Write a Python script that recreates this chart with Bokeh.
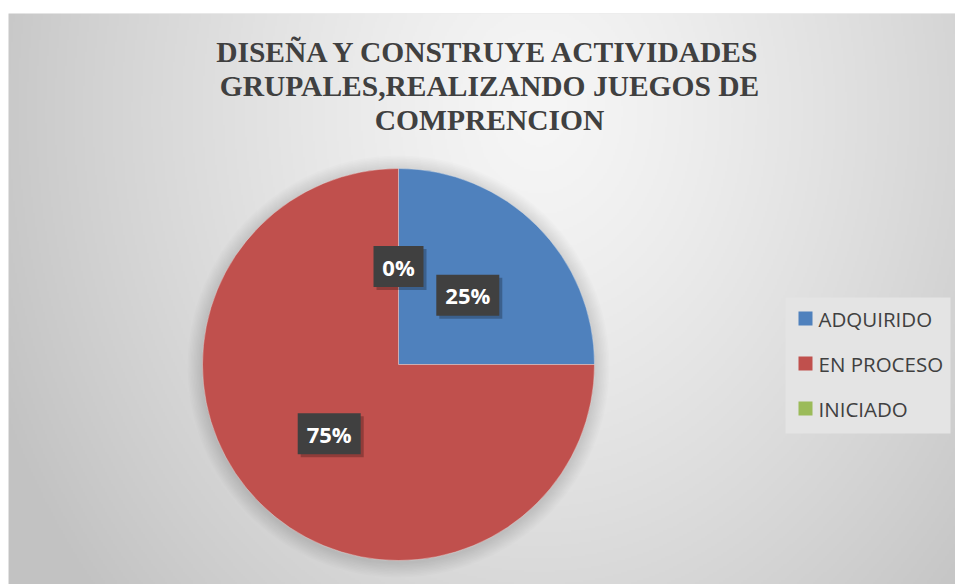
import numpy as np
from bokeh.plotting import figure
from bokeh.models import Range1d, ColumnDataSource
from bokeh.core.properties import value
from bokeh.embed import file_html
from bokeh.resources import INLINE

# ---- data ----
categories = ["ADQUIRIDO", "EN PROCESO", "INICIADO"]
values = [25, 75, 0]
pct_labels = ["25%", "75%", "0%"]
colors = ["#4f81bd", "#c0504d", "#9bbb59"]
title_lines = ["DISEÑA Y CONSTRUYE ACTIVIDADES",
               "GRUPALES,REALIZANDO JUEGOS DE",
               "COMPRENCION"]

W, H = 955, 584
LEFT, TOP = 8, 13   # image coords of frame top-left
BOT = 584


def Y(yimg):
    return 584 - yimg


p = figure(width=W, height=H, output_backend="svg", toolbar_location=None,
           x_range=Range1d(LEFT, 955), y_range=Range1d(Y(BOT), Y(TOP)),
           min_border_top=TOP, min_border_left=LEFT, min_border_right=0,
           min_border_bottom=0, border_fill_color="white",
           background_fill_color="#dcdcdc", outline_line_color=None)
p.axis.visible = False
p.grid.visible = False

# ---- background radial gradient ----
gw, gh = 474, 286
xs = np.linspace(LEFT, 955, gw)
ys = np.linspace(TOP, BOT, gh)
XX, YY = np.meshgrid(xs, ys)
d = np.sqrt(((XX - 540) / 560) ** 2 + ((YY - 110) / 700) ** 2)
v = np.clip(246 - 48 * d ** 1.3, 194, 246).astype(np.uint8)
img = np.empty((gh, gw, 4), dtype=np.uint8)
img[..., 0] = v
img[..., 1] = v
img[..., 2] = v
img[..., 3] = 255
img = np.ascontiguousarray(img[::-1])
p.image_rgba(image=[img.view(np.uint32).reshape(gh, gw)], x=LEFT, y=Y(BOT),
             dw=955 - LEFT, dh=BOT - TOP)

# ---- pie ----
cx, cy, r = 398, Y(364), 196
for i in range(10):
    p.circle(x=cx, y=cy - 2, radius=r + 1.5 * (i + 1), fill_color="black",
             fill_alpha=0.012, line_color=None)

total = float(sum(values))
fr = np.array(values) / total
cum = np.concatenate([[0], np.cumsum(fr)])
start = np.pi / 2 - 2 * np.pi * cum[:-1]
end = np.pi / 2 - 2 * np.pi * cum[1:]
mid = (start + end) / 2
nz = [i for i, v_ in enumerate(values) if v_ > 0]
src = ColumnDataSource(dict(cat=[categories[i] for i in nz],
                            start=start[nz], end=end[nz],
                            color=[colors[i] for i in nz]))
p.wedge(x=cx, y=cy, radius=r, start_angle="start", end_angle="end",
        direction="clock", fill_color="color", line_color="#f0f0f0",
        line_width=0.6, line_alpha=0.6, source=src)

# ---- data labels ----
lx = cx + 0.5 * r * np.cos(mid)
ly = cy + 0.5 * r * np.sin(mid)
bw = [24 + 13 * len(s) for s in pct_labels]
lsrc = ColumnDataSource(dict(x=lx, y=ly, w=bw, t=pct_labels,
                             sx=lx + 3, sy=ly - 3))
p.rect(x="sx", y="sy", width="w", height=41, fill_color="black",
       fill_alpha=0.25, line_color=None, source=lsrc)
p.rect(x="x", y="y", width="w", height=41, fill_color="#404040",
       line_color=None, source=lsrc)
p.text(x="x", y="y", text="t", text_align="center", text_baseline="middle",
       text_color="white", text_font=value("Open Sans"), text_font_style="bold",
       text_font_size="22px", source=lsrc)

# ---- title ----
tsrc = ColumnDataSource(dict(x=[489] * 3, y=[Y(51), Y(85), Y(119)], t=title_lines))
p.text(x="x", y="y", text="t", text_align="center", text_baseline="alphabetic",
       text_color="#404040", text_font=value("Liberation Serif"),
       text_font_style="bold", text_font_size="29.5px", source=tsrc)

# ---- legend (manual) ----
p.quad(left=785, right=950, top=Y(297), bottom=Y(433), fill_color="#e4e4e4",
       line_color=None)
leg_y = [Y(318 + 45 * i) for i in range(len(categories))]
gsrc = ColumnDataSource(dict(x=[805] * 3, y=leg_y, c=colors, t=categories,
                             tx=[818] * 3))
p.rect(x="x", y="y", width=14, height=14, fill_color="c", line_color=None,
       source=gsrc)
p.text(x="tx", y="y", text="t", text_align="left", text_baseline="middle",
       text_color="#404040", text_font=value("Open Sans"),
       text_font_size="20.5px", source=gsrc)

open("out.html", "w").write(file_html(p, INLINE))
